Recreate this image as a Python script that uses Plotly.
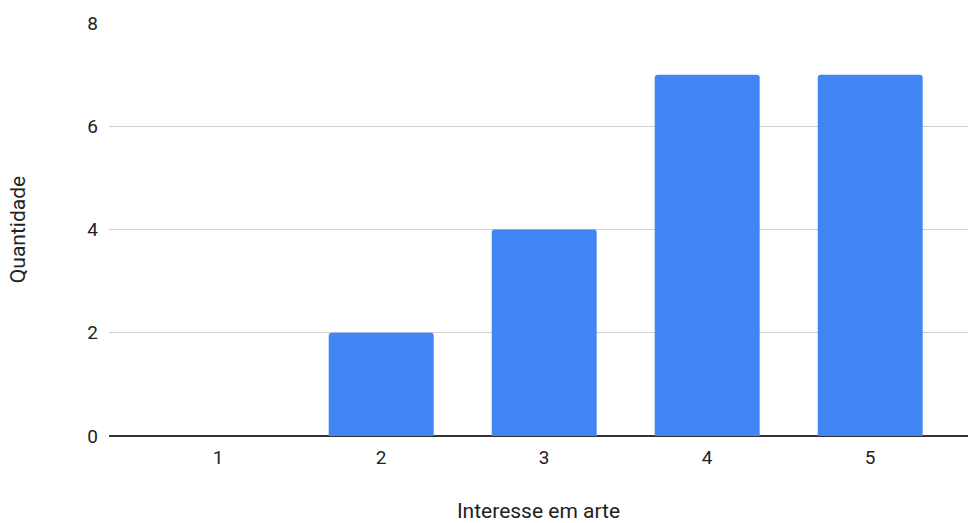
import plotly.graph_objects as go

categories = ["1", "2", "3", "4", "5"]
values = [0, 2, 4, 7, 7]
y_ticks = [0, 2, 4, 6, 8]

fig = go.Figure(
    go.Bar(
        x=categories,
        y=values,
        marker=dict(color="#4285F4", cornerradius=3, line=dict(width=0)),
        hoverinfo="x+y",
    )
)

fig.update_layout(
    width=968,
    height=523,
    margin=dict(l=109, r=0, t=23, b=87),
    plot_bgcolor="white",
    paper_bgcolor="white",
    bargap=0.356,
    font=dict(family="Roboto, Arial, sans-serif", size=20, color="#222222"),
    showlegend=False,
)

fig.update_xaxes(
    type="category",
    range=[-0.67, 4.6],
    showgrid=False,
    ticks="",
    ticklabelstandoff=8,
    tickfont=dict(size=19, color="#222222"),
    title=dict(text="Interesse em arte", font=dict(size=21, color="#222222"), standoff=36),
    showline=False,
    zeroline=False,
)

fig.update_yaxes(
    range=[0, 8],
    tickvals=y_ticks,
    showgrid=True,
    gridcolor="#d0d0d0",
    gridwidth=1,
    zeroline=True,
    zerolinecolor="#333333",
    zerolinewidth=1.5,
    ticks="",
    ticklabelstandoff=10,
    tickfont=dict(size=19, color="#222222"),
    title=dict(text="Quantidade", font=dict(size=21, color="#222222"), standoff=55),
)

fig.write_html("out.html")
